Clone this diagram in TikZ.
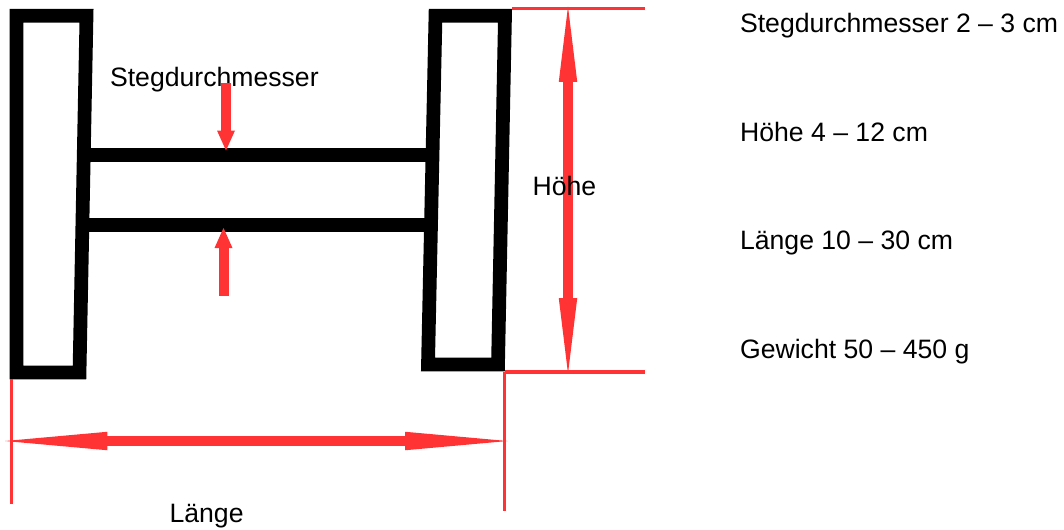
\documentclass[tikz,border=0pt]{standalone}
\usepackage{fontspec}
\setmainfont{Liberation Sans}
\usetikzlibrary{arrows.meta}
\definecolor{dimred}{RGB}{255,51,51}
\tikzset{
	frame/.style={draw=black,line width=0.275cm,miter limit=10},
	web/.style={draw=black,line width=0.275cm},
	guide/.style={draw=dimred,line width=0.065cm},
	small tip/.style={-{Triangle[length=0.4cm,width=0.36cm,fill=dimred,line width=0pt]}},
	small arrow/.style={draw=dimred,line width=0.2cm,small tip},
	long arrow/.style={draw=dimred,line width=0.2cm,{Triangle[length=1.51cm,width=0.37cm,fill=dimred,line width=0pt]}-{Triangle[length=1.51cm,width=0.37cm,fill=dimred,line width=0pt]}},
	wide arrow/.style={draw=dimred,line width=0.2cm,{Triangle[length=2.05cm,width=0.37cm,fill=dimred,line width=0pt]}-{Triangle[length=2.05cm,width=0.37cm,fill=dimred,line width=0pt]}},
	label/.style={anchor=base west,inner sep=0pt,font=\fontsize{15.15pt}{18pt}\selectfont}
}
\begin{document}
\begin{tikzpicture}[x=0.02cm,y=-0.02cm]
	\useasboundingbox (0,0) rectangle (1064,529);
	%web
	\draw[web] (84,155) -- (433,155);
	\draw[web] (84,225) -- (433,225);
	%frames
	\draw[frame] (16.5,15.8) -- (86.5,15.8) -- (79.5,372.5) -- (16.5,372.5) -- cycle;
	\draw[frame] (435.5,15.8) -- (505,15.8) -- (498,364.5) -- (428,364.5) -- cycle;
	%guides
	\coordinate (top left) at (512,8.5);
	\coordinate (top right) at (645,8.5);
	\coordinate (bottom left) at (504.5,372);
	\coordinate (bottom right) at (645,372);
	\coordinate (right end) at (504.5,511);
	\coordinate (left start) at (11.5,379);
	\coordinate (left end) at (11.5,504);
	\draw[guide] (top left) -- (top right);
	\draw[guide] (bottom left) -- (bottom right);
	\draw[guide] (bottom left) -- (right end);
	\draw[guide] (left start) -- (left end);
	%labels
	\node[label] (steg) at (109.7,86) {Stegdurchmesser};
	\node[label] (laenge) at (169.2,522) {Länge};
	%web arrows
	\coordinate (steg top) at (226,83);
	\coordinate (steg tip) at (226,150.5);
	\coordinate (steg low) at (223.5,296);
	\coordinate (steg lowtip) at (223.5,228);
	\draw[small arrow] (steg top) -- (steg tip);
	\draw[small arrow] (steg low) -- (steg lowtip);
	%height
	\coordinate (hoehe top) at (568,6.5);
	\coordinate (hoehe bottom) at (568,373.5);
	\draw[long arrow] (hoehe top) -- (hoehe bottom);
	\node[label] (hoehe) at (532.2,195) {Höhe};
	%length
	\coordinate (laenge left) at (5,441);
	\coordinate (laenge right) at (507.5,441);
	\draw[wide arrow] (laenge left) -- (laenge right);
	%list
	\node[label] (d) at (739.7,32) {Stegdurchmesser 2 – 3 cm};
	\node[label] (h) at (739.7,141) {Höhe 4 – 12 cm};
	\node[label] (l) at (739.7,249) {Länge 10 – 30 cm};
	\node[label] (g) at (739.7,358) {Gewicht 50 – 450 g};
\end{tikzpicture}
\end{document}
